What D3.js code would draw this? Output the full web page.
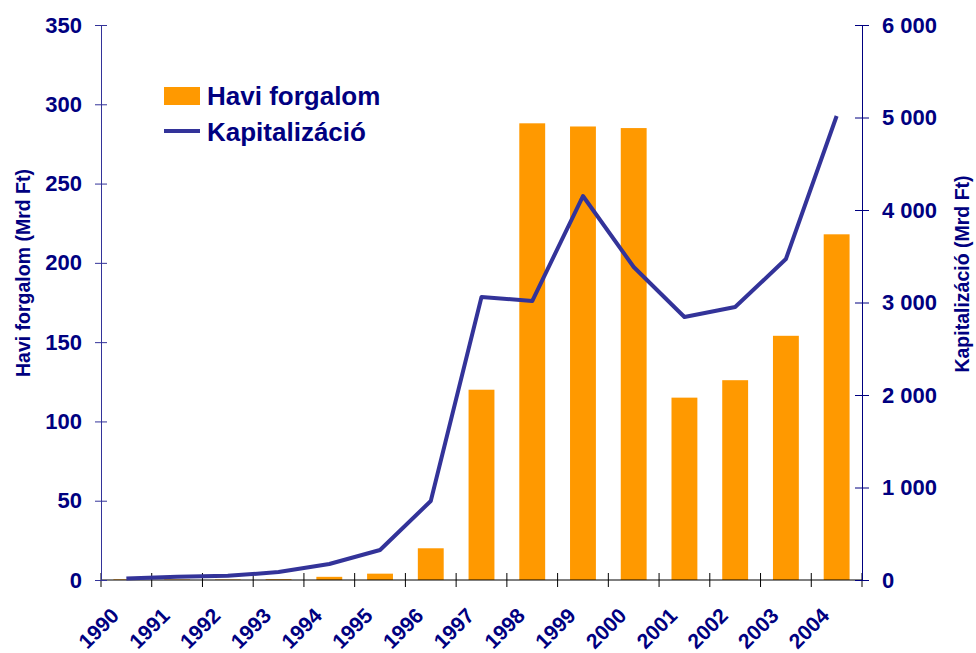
<!DOCTYPE html>
<html>
<head>
<meta charset="utf-8">
<script src="https://cdn.jsdelivr.net/npm/d3@7"></script>
<style>
  body { margin: 0; background: #fff; }
  text { font-family: "Liberation Sans", Arial, sans-serif; font-weight: bold; fill: #000080; }
</style>
</head>
<body>
<div id="chart"></div>
<script>
// Years on the category axis
const years = ["1990","1991","1992","1993","1994","1995","1996","1997","1998","1999","2000","2001","2002","2003","2004"];
// Havi forgalom (Mrd Ft), left axis
const haviForgalom = [0.4, 0.3, 0.3, 0.5, 2, 4, 20, 120, 288, 286, 285, 115, 126, 154, 218];
// Kapitalizáció (Mrd Ft), right axis
const kapitalizacio = [15, 35, 45, 86, 173, 324, 854, 3060, 3016, 4151, 3384, 2843, 2951, 3470, 5016];
const leftTicks = [0, 50, 100, 150, 200, 250, 300, 350];
const rightTicks = [0, 1000, 2000, 3000, 4000, 5000, 6000];

const width = 976, height = 653;
const margin = {top: 25, right: 114, bottom: 73, left: 101};
const innerW = width - margin.left - margin.right;
const innerH = height - margin.top - margin.bottom;

const svg = d3.select("#chart").append("svg")
    .attr("width", width)
    .attr("height", height);

const g = svg.append("g").attr("transform", "translate(" + margin.left + "," + margin.top + ")");

const x = d3.scaleBand().domain(years).range([0, innerW]).paddingInner(0.49).paddingOuter(0.245);
const xStep = d3.scaleBand().domain(years).range([0, innerW]);
const yLeft = d3.scaleLinear().domain([0, 350]).range([innerH, 0]);
const yRight = d3.scaleLinear().domain([0, 6000]).range([innerH, 0]);

// bars
g.selectAll("rect.bar").data(years).enter().append("rect")
    .attr("class", "bar")
    .attr("x", d => x(d))
    .attr("width", x.bandwidth())
    .attr("y", (d, i) => yLeft(haviForgalom[i]))
    .attr("height", (d, i) => innerH - yLeft(haviForgalom[i]))
    .attr("fill", "#FF9900");

// x axis line and ticks
g.append("line").attr("x1", 0).attr("x2", innerW).attr("y1", innerH).attr("y2", innerH)
    .attr("stroke", "#000").attr("stroke-width", 1);
const xTickPos = years.map(d => xStep(d)).concat([innerW]);
g.selectAll("line.xtick").data(xTickPos).enter().append("line")
    .attr("class", "xtick")
    .attr("x1", d => d).attr("x2", d => d)
    .attr("y1", innerH - 7).attr("y2", innerH + 7)
    .attr("stroke", "#000").attr("stroke-width", 1);

// year labels, rotated
g.selectAll("text.year").data(years).enter().append("text")
    .attr("class", "year")
    .attr("transform", d => "translate(" + (xStep(d) + xStep.bandwidth() / 2 - 6) + "," + (innerH + 37) + ") rotate(-45)")
    .attr("text-anchor", "end")
    .style("font-size", "21px")
    .text(d => d);

// line
const line = d3.line()
    .x((d, i) => xStep(years[i]) + xStep.bandwidth() / 2)
    .y(d => yRight(d));
g.append("path").datum(kapitalizacio)
    .attr("d", line)
    .attr("fill", "none")
    .attr("stroke", "#333399")
    .attr("stroke-width", 4)
    .attr("stroke-linejoin", "round");

// left axis
const leftAxis = d3.axisLeft(yLeft).tickValues(leftTicks).tickSize(0).tickPadding(19);
const la = g.append("g").call(leftAxis);
la.select(".domain").attr("stroke", "#333399");
la.selectAll(".tick line").remove();
la.selectAll(".tick").append("line").attr("x1", -6).attr("x2", 6).attr("stroke", "#333399");

// right axis
const rightAxis = d3.axisRight(yRight).tickValues(rightTicks).tickSize(0).tickPadding(20)
    .tickFormat(d => d3.format(",")(d).replace(",", " "));
const ra = g.append("g").attr("transform", "translate(" + innerW + ",0)").call(rightAxis);
ra.select(".domain").attr("stroke", "#000080");
ra.selectAll(".tick line").remove();
ra.selectAll(".tick").append("line").attr("x1", -7).attr("x2", 7).attr("stroke", "#000080");

svg.selectAll("g").attr("font-family", null).attr("font-size", null);
svg.selectAll(".tick text").attr("fill", null).style("font-size", "22px");

// axis titles
svg.append("text")
    .attr("transform", "translate(30," + (margin.top + 248) + ") rotate(-90)")
    .attr("text-anchor", "middle")
    .style("font-size", "19.5px")
    .text("Havi forgalom (Mrd Ft)");
svg.append("text")
    .attr("transform", "translate(969," + (margin.top + 249) + ") rotate(-90)")
    .attr("text-anchor", "middle")
    .style("font-size", "19.5px")
    .text("Kapitalizáció (Mrd Ft)");

// legend
const legend = svg.append("g").attr("transform", "translate(164,87)");
legend.append("rect").attr("x", 0).attr("y", 0).attr("width", 36).attr("height", 18).attr("fill", "#FF9900");
legend.append("text").attr("x", 43).attr("y", 18).style("font-size", "26px").text("Havi forgalom");
legend.append("line").attr("x1", 0).attr("x2", 36).attr("y1", 44).attr("y2", 44)
    .attr("stroke", "#333399").attr("stroke-width", 4);
legend.append("text").attr("x", 43).attr("y", 54).style("font-size", "26px").text("Kapitalizáció");
</script>
</body>
</html>
